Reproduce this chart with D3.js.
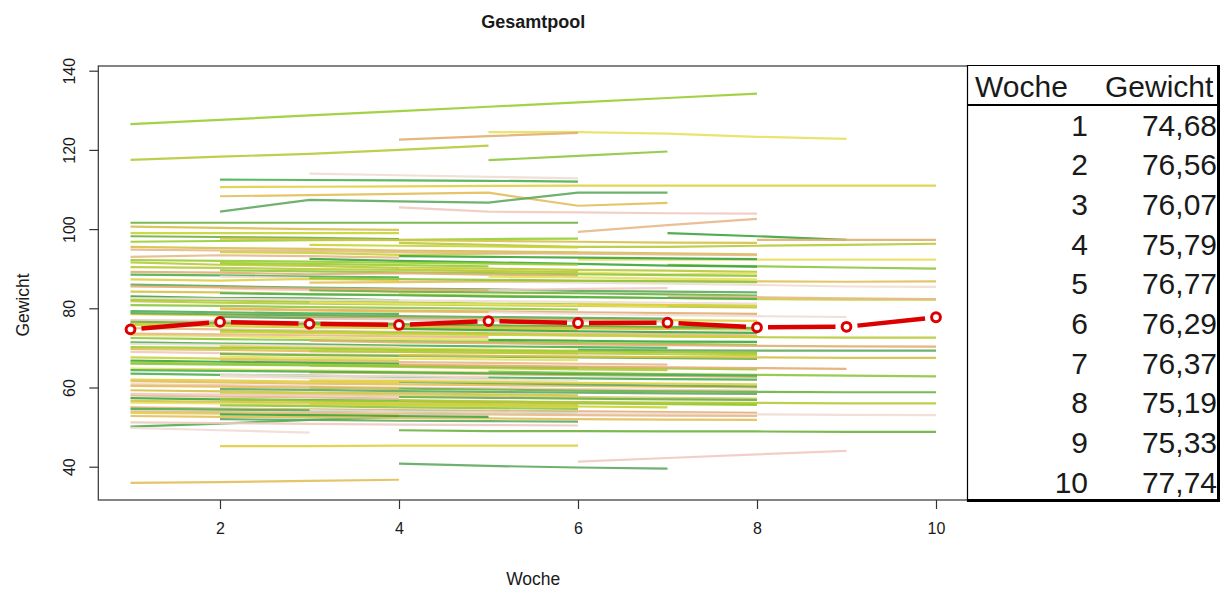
<!DOCTYPE html>
<html>
<head>
<meta charset="utf-8">
<title>Gesamtpool</title>
<script src="https://d3js.org/d3.v7.min.js"></script>
<style>
  body { margin: 0; background: #fff; }
  text { font-family: "Liberation Sans", Arial, sans-serif; fill: #1a1a1a; }
</style>
</head>
<body>
<script>
// Wochen und Mittelwerte (rote Linie + Tabelle)
var wochen = [1, 2, 3, 4, 5, 6, 7, 8, 9, 10];
var mittelwerte = [74.68, 76.56, 76.07, 75.79, 76.77, 76.29, 76.37, 75.19, 75.33, 77.74];

var xTicks = [2, 4, 6, 8, 10];
var yTicks = [40, 60, 80, 100, 120, 140];

// Einzelverläufe: [Startwoche, Gewicht je Woche ...]
var ausreisser = [
  [1, 126.5, 127.6, 128.7, 129.8, 130.9, 132.0, 133.1, 134.2],
  [1, 117.5, 118.3, 119.0, 120.0, 121.1],
  [5, 124.5, 124.5, 124.1, 123.3, 122.8],
  [5, 117.4, 118.5, 119.6],
  [4, 122.6, 123.5, 124.3],
  [2, 112.5, 112.4, 112.3, 112.2, 112.0],
  [3, 114.0, 113.6, 113.2, 112.8],
  [2, 110.6, 110.7, 110.8, 110.9, 111.0, 111.0, 111.0, 111.0, 111.0],
  [2, 108.3, 108.6, 108.9, 109.2, 105.9, 106.6],
  [2, 104.4, 107.4, 107.0, 106.7, 109.2, 109.2],
  [4, 105.5, 104.4, 104.2, 104.0, 103.9],
  [1, 101.6, 101.6, 101.6, 101.6, 101.6, 101.6],
  [1, 100.6, 100.3, 100.0, 99.8],
  [1, 99.0, 99.0, 99.0, 99.0],
  [6, 99.3, 101.0, 102.6],
  [7, 99.0, 98.2, 97.3],
  [1, 96.8, 97.0, 97.2, 97.3, 97.5, 97.6],
  [4, 96.5, 96.0, 95.5, 95.5, 95.8, 96.0, 96.3],
  [6, 92.3, 92.3, 92.3, 92.3, 92.3],
  [7, 91.0, 90.6, 90.3, 90.0],
  [8, 97.3, 97.3, 97.3],
  [1, 50.1, 50.9, 51.8, 52.6],
  [1, 49.8, 49.2, 48.6],
  [2, 45.2, 45.2, 45.3, 45.3, 45.3],
  [1, 35.9, 36.1, 36.4, 36.7],
  [4, 40.8, 40.2, 39.8, 39.5],
  [6, 41.3, 42.2, 43.1, 44.0],
  [4, 49.2, 49.0, 49.0, 48.9, 48.9, 48.8, 48.8]
];

var hauptfeld = [
  [1, 95.5, 95.2, 95.0, 94.6, 94.4, 94.1, 93.9, 93.6],
  [2, 94.2, 94.0, 93.5, 93.8, 94.1],
  [1, 93.0, 93.4, 93.2, 92.8],
  [3, 92.5, 92.0, 91.6, 91.2, 90.8, 90.5],
  [1, 92.2, 92.0, 91.8, 91.5, 91.3, 91.0],
  [1, 91.6, 91.0, 90.7, 90.2, 90.0, 89.7, 89.5, 89.2],
  [4, 90.0, 89.4, 89.0, 88.6, 88.8],
  [2, 89.6, 89.3, 89.1, 88.9, 88.6, 88.4, 88.2],
  [1, 89.2, 89.0, 88.6, 88.9, 88.5, 88.2],
  [1, 88.5, 88.3, 88.0, 87.8],
  [2, 88.0, 87.6, 87.2, 86.8, 86.5, 86.2, 85.9, 85.5, 85.4],
  [1, 87.3, 87.0, 87.4, 87.1],
  [3, 86.5, 86.6, 86.8, 86.9, 87.0, 86.8, 86.7, 86.8],
  [1, 86.0, 85.6, 85.2, 85.0, 84.8, 84.4, 84.2, 84.0],
  [2, 85.0, 84.6, 84.3, 84.6, 84.9, 85.1],
  [3, 84.6, 84.2, 84.0, 83.8, 83.5, 83.2],
  [1, 84.2, 84.0, 83.6, 83.4, 83.0, 82.8],
  [4, 83.5, 83.2, 82.9, 82.6, 82.3, 82.2, 82.2],
  [7, 83.0, 82.8, 82.5, 82.3],
  [1, 83.0, 82.6, 82.5, 82.0],
  [1, 82.2, 82.0, 81.7, 81.5, 81.2, 81.0, 80.8, 80.6],
  [1, 81.8, 81.4, 81.2, 81.0, 80.8, 80.6, 80.4, 80.2],
  [3, 81.5, 81.2, 81.0, 80.8, 80.5],
  [1, 80.8, 80.6, 80.3, 80.1, 79.9, 79.7],
  [2, 80.0, 79.6, 79.4, 79.2, 79.0, 78.8, 78.6],
  [1, 79.3, 79.0, 78.7, 78.6],
  [5, 79.0, 78.6, 78.3, 78.0, 77.8],
  [1, 78.5, 78.2, 78.0, 77.6, 77.4, 77.2, 77.0, 76.8],
  [2, 78.2, 77.9, 77.6, 77.3, 77.0, 76.8],
  [2, 77.8, 77.5, 77.3, 77.0, 76.8],
  [1, 77.0, 76.8, 76.5, 76.3],
  [3, 76.4, 76.0, 75.7, 75.5, 75.3, 75.0],
  [1, 76.2, 76.0, 75.8, 75.4, 75.2, 75.0, 74.8, 74.6],
  [1, 75.8, 75.5, 75.2, 75.0, 74.8, 74.5],
  [1, 75.0, 74.7, 74.4, 74.0, 73.8, 73.6, 73.4, 73.2],
  [4, 74.8, 74.5, 74.2, 74.0, 73.8],
  [2, 74.4, 74.0, 73.8, 73.6],
  [4, 73.8, 73.5, 73.2, 72.9, 72.7, 72.6, 72.6],
  [1, 73.2, 73.0, 72.6, 72.3, 72.1, 71.9],
  [1, 72.5, 72.2, 72.0, 71.7, 71.5, 71.2, 71.0, 70.8],
  [3, 71.8, 71.4, 71.2, 70.9, 70.7, 70.5, 70.4, 70.3],
  [1, 71.4, 71.1, 70.9, 70.6, 70.4, 70.2, 70.0],
  [1, 71.0, 70.8, 70.5, 70.2],
  [2, 70.4, 70.0, 69.8, 69.6, 69.3, 69.0, 68.8],
  [1, 69.7, 69.5, 69.2, 69.0, 68.8, 68.6],
  [6, 69.5, 69.4, 69.3, 69.3, 69.3],
  [1, 69.0, 68.7, 68.4, 68.2, 68.0, 67.8, 67.6, 67.4],
  [2, 68.5, 68.2, 68.0, 67.8, 67.6, 67.4, 67.2],
  [4, 68.2, 68.0, 67.8, 67.7, 67.6, 67.5, 67.5],
  [1, 67.6, 67.3, 67.0, 66.8],
  [2, 67.0, 66.6, 66.4, 66.2, 66.0, 65.8],
  [1, 66.8, 66.5, 66.2, 66.0],
  [1, 66.3, 66.0, 65.8, 65.5, 65.3, 65.0, 64.8, 64.6],
  [3, 65.5, 65.2, 64.9, 64.6, 64.4],
  [1, 64.8, 64.6, 64.3, 64.0, 63.8, 63.6],
  [5, 64.0, 63.7, 63.4, 63.2, 63.0, 62.8],
  [3, 63.8, 63.6, 63.4, 63.1, 62.9, 62.7],
  [1, 63.5, 63.2, 63.0, 62.7, 62.5, 62.3, 62.1, 62.0],
  [2, 62.8, 62.4, 62.2, 62.0, 61.8],
  [1, 62.0, 61.8, 61.5, 61.2],
  [1, 61.6, 61.3, 61.0, 60.8, 60.6, 60.4, 60.2, 60.0],
  [4, 61.4, 61.1, 60.8, 60.5, 60.3],
  [1, 60.8, 60.6, 60.3, 60.0, 59.8, 59.6, 59.4, 59.2],
  [3, 60.0, 59.7, 59.5, 59.2, 59.0, 58.9, 58.8, 58.8],
  [1, 59.3, 59.0, 58.7, 58.5, 58.3, 58.0],
  [2, 58.6, 58.3, 58.0, 57.8, 57.6, 57.4, 57.2],
  [1, 58.0, 57.7, 57.5, 57.2],
  [1, 57.3, 57.0, 56.8, 56.6, 56.4, 56.2, 56.0, 55.8],
  [2, 57.0, 56.7, 56.5, 56.2, 56.0, 55.8, 55.6],
  [4, 56.8, 56.5, 56.3, 56.2, 56.1, 56.0, 56.0],
  [1, 56.2, 56.0, 55.7, 55.5, 55.3, 55.1],
  [2, 55.5, 55.3, 55.0, 54.8, 54.6],
  [1, 55.0, 54.7, 54.5, 54.3, 54.1, 54.0, 53.8, 53.6],
  [1, 54.6, 54.4, 54.2, 54.0, 53.8, 53.6],
  [3, 54.3, 54.0, 53.8, 53.6, 53.4, 53.2, 53.1, 53.0],
  [1, 53.6, 53.4, 53.2, 53.0],
  [1, 52.8, 52.6, 52.5, 52.3, 52.2, 52.0, 51.9, 51.8],
  [2, 52.0, 51.8, 51.6, 51.5, 51.4],
  [1, 51.2, 51.0, 50.8, 50.6, 50.5, 50.4]
];

var ergaenzung = [
  [1, 98.2, 98.0, 97.8, 97.5],
  [2, 97.6, 97.4, 97.2, 97.0, 96.8, 96.6, 96.5],
  [3, 96.0, 95.8, 95.6, 95.4],
  [1, 94.8, 94.6, 94.5, 94.2, 94.0, 93.8, 93.6, 93.4],
  [4, 93.2, 93.0, 92.8, 92.6, 92.4],
  [2, 91.4, 91.2, 90.9, 90.6],
  [1, 90.4, 90.2, 89.9, 89.7, 89.4, 89.2],
  [5, 88.0, 87.8, 87.5, 87.3],
  [3, 87.6, 87.4, 87.2, 87.0, 86.8, 86.6],
  [1, 85.5, 85.3, 85.0, 84.8, 84.6],
  [2, 83.8, 83.5, 83.3, 83.0, 82.8, 82.6, 82.4],
  [1, 82.6, 82.4, 82.2, 82.0, 81.8, 81.6, 81.4, 81.2],
  [6, 81.0, 80.8, 80.6],
  [2, 79.8, 79.5, 79.2, 79.0],
  [1, 78.8, 78.5, 78.3, 78.0, 77.8, 77.6, 77.4],
  [3, 77.4, 77.2, 77.0, 76.8, 76.6],
  [1, 76.6, 76.3, 76.1, 75.9, 75.6, 75.4, 75.2, 75.0],
  [4, 75.4, 75.2, 75.0, 74.8],
  [2, 74.0, 73.8, 73.5, 73.3, 73.1, 72.9, 72.8],
  [1, 73.6, 73.4, 73.2, 72.9, 72.7],
  [5, 72.0, 71.8, 71.6, 71.5],
  [1, 70.2, 70.0, 69.8, 69.5, 69.3, 69.1, 68.9, 68.7],
  [3, 69.2, 69.0, 68.8, 68.6, 68.4, 68.2],
  [2, 67.8, 67.5, 67.3, 67.1, 66.9],
  [1, 66.0, 65.8, 65.6, 65.4, 65.2, 65.0],
  [4, 65.8, 65.5, 65.3, 65.1, 64.9, 64.7],
  [1, 64.4, 64.2, 64.0, 63.8, 63.6, 63.4, 63.2, 63.0],
  [2, 63.2, 63.0, 62.8, 62.6],
  [3, 61.8, 61.6, 61.4, 61.2, 61.0, 60.8],
  [1, 60.4, 60.2, 60.0, 59.8],
  [2, 59.6, 59.4, 59.1, 58.9, 58.7, 58.5, 58.4],
  [1, 58.4, 58.2, 58.0, 57.8, 57.6, 57.4, 57.2, 57.0],
  [4, 57.6, 57.4, 57.2, 57.0, 56.9],
  [1, 56.6, 56.4, 56.2, 56.0, 55.8, 55.6],
  [3, 55.8, 55.6, 55.4, 55.2, 55.0],
  [1, 54.0, 53.8, 53.6, 53.4, 53.2, 53.0, 52.9, 52.8],
  [2, 53.2, 53.0, 52.8, 52.6]
];

var farben = ["#9ACD32", "#E0D040", "#E6B98A", "#4CAF50", "#D4C24A", "#8DC63F",
  "#EFCAC0", "#B8C93A", "#E3BF5A", "#3DA53D", "#F0DCD4", "#C9D336",
  "#E2AE70", "#6DB33F", "#E8E060", "#5FA85F"];

var width = 1229, height = 594;
var box = {left: 98.3, right: 968.2, top: 66, bottom: 500};

var svg = d3.select('body').append('svg')
  .attr('width', width)
  .attr('height', height);

var x = d3.scaleLinear().domain([1, 10]).range([130.5, 936]);
var y = d3.scaleLinear().domain([40, 140]).range([466.7, 70.7]);

// Einzelverläufe
var verlaeufe = ausreisser.concat(hauptfeld, ergaenzung).map(function(d) {
  return d.slice(1).map(function(v, j) { return {w: d[0] + j, g: v}; });
});

var linie = d3.line().x(function(p) { return x(p.w); }).y(function(p) { return y(p.g); });

svg.append('g').selectAll('path')
  .data(verlaeufe)
  .enter().append('path')
  .attr('d', linie)
  .attr('fill', 'none')
  .attr('stroke', function(d, i) { return farben[(i * 7) % farben.length]; })
  .attr('stroke-width', 2.2)
  .attr('stroke-opacity', 0.9);

// Mittelwert: Linie mit Lücken um die Punkte (type = "b")
var gap = 11;
var mittel = wochen.map(function(w, i) { return {w: w, g: mittelwerte[i]}; });
var segmente = d3.pairs(mittel);
svg.append('g').selectAll('line')
  .data(segmente)
  .enter().append('line')
  .each(function(d) {
    var x1 = x(d[0].w), y1 = y(d[0].g), x2 = x(d[1].w), y2 = y(d[1].g);
    var len = Math.hypot(x2 - x1, y2 - y1);
    var ux = (x2 - x1) / len, uy = (y2 - y1) / len;
    d3.select(this)
      .attr('x1', x1 + ux * gap).attr('y1', y1 + uy * gap)
      .attr('x2', x2 - ux * gap).attr('y2', y2 - uy * gap);
  })
  .attr('stroke', '#DC0000')
  .attr('stroke-width', 4.5);

svg.append('g').selectAll('circle')
  .data(mittel)
  .enter().append('circle')
  .attr('cx', function(d) { return x(d.w); })
  .attr('cy', function(d) { return y(d.g); })
  .attr('r', 4.4)
  .attr('fill', '#fff')
  .attr('stroke', '#DC0000')
  .attr('stroke-width', 3);

// Rahmen und Achsen (R-Stil: Striche nur an den Tickwerten)
svg.append('rect')
  .attr('x', box.left).attr('y', box.top)
  .attr('width', box.right - box.left).attr('height', box.bottom - box.top)
  .attr('fill', 'none').attr('stroke', '#333').attr('stroke-width', 1.2);

var xAxis = svg.append('g').attr('transform', 'translate(0,' + box.bottom + ')')
  .call(d3.axisBottom(x).tickValues(xTicks).tickSize(9).tickSizeOuter(0).tickPadding(14).tickFormat(d3.format('d')));
var yAxis = svg.append('g').attr('transform', 'translate(' + box.left + ',0)')
  .call(d3.axisLeft(y).tickValues(yTicks).tickSize(9).tickSizeOuter(0).tickFormat(d3.format('d')));

[xAxis, yAxis].forEach(function(a) {
  a.select('.domain').remove();
  a.selectAll('.tick line').attr('stroke', '#333').attr('stroke-width', 1.2);
  a.selectAll('text').attr('font-family', '"Liberation Sans", Arial, sans-serif')
    .attr('font-size', 16).attr('fill', '#1a1a1a');
});
yAxis.selectAll('.tick text')
  .attr('x', null).attr('dy', null)
  .attr('text-anchor', 'middle')
  .attr('transform', 'translate(-23,0) rotate(-90)');

svg.append('text')
  .attr('x', (box.left + box.right) / 2).attr('y', 28)
  .attr('text-anchor', 'middle')
  .attr('font-size', 18).attr('font-weight', 'bold')
  .text('Gesamtpool');

svg.append('text')
  .attr('x', (box.left + box.right) / 2).attr('y', 585)
  .attr('text-anchor', 'middle')
  .attr('font-size', 17.5)
  .text('Woche');

svg.append('text')
  .attr('transform', 'translate(29,305) rotate(-90)')
  .attr('text-anchor', 'middle')
  .attr('font-size', 17.5)
  .text('Gewicht');

// Tabelle
var tab = {left: 967, right: 1220, top: 65, head: 105, bottom: 502};
var zeile = (tab.bottom - tab.head) / wochen.length;
var t = svg.append('g');
t.append('rect')
  .attr('x', tab.left).attr('y', tab.top)
  .attr('width', tab.right - tab.left).attr('height', tab.bottom - tab.top)
  .attr('fill', '#fff');
t.append('line').attr('x1', tab.left).attr('x2', tab.right).attr('y1', tab.top + 0.5).attr('y2', tab.top + 0.5)
  .attr('stroke', '#000').attr('stroke-width', 1.2);
t.append('line').attr('x1', tab.left + 0.5).attr('x2', tab.left + 0.5).attr('y1', tab.top).attr('y2', tab.bottom)
  .attr('stroke', '#000').attr('stroke-width', 1.2);
t.append('line').attr('x1', tab.right - 1.5).attr('x2', tab.right - 1.5).attr('y1', tab.top).attr('y2', tab.bottom)
  .attr('stroke', '#000').attr('stroke-width', 3);
t.append('line').attr('x1', tab.left).attr('x2', tab.right).attr('y1', tab.bottom - 1.5).attr('y2', tab.bottom - 1.5)
  .attr('stroke', '#000').attr('stroke-width', 3);
t.append('line').attr('x1', tab.left).attr('x2', tab.right).attr('y1', tab.head).attr('y2', tab.head)
  .attr('stroke', '#000').attr('stroke-width', 2);

t.append('text').attr('x', 975).attr('y', 97).attr('font-size', 30).text('Woche');
t.append('text').attr('x', 1105).attr('y', 97).attr('font-size', 30).text('Gewicht');

var komma = function(v) { return d3.format('.2f')(v).replace('.', ','); };
var zeilen = t.selectAll('g.zeile')
  .data(mittel)
  .enter().append('g')
  .attr('class', 'zeile')
  .attr('transform', function(d, i) { return 'translate(0,' + (tab.head + zeile * (i + 0.5) + 10.7) + ')'; });
zeilen.append('text').attr('x', 1088).attr('text-anchor', 'end').attr('font-size', 30)
  .text(function(d) { return d.w; });
zeilen.append('text').attr('x', 1217).attr('text-anchor', 'end').attr('font-size', 30)
  .text(function(d) { return komma(d.g); });
</script>
</body>
</html>
